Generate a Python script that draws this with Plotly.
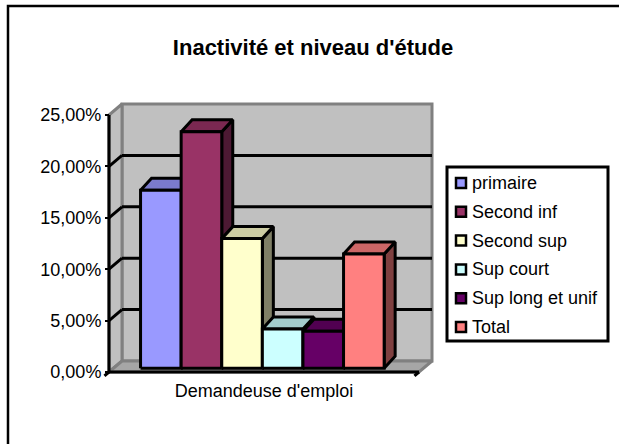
import plotly.graph_objects as go

# ---------------- data ----------------
categories = ["Demandeuse d'emploi"]
series = ["primaire", "Second inf", "Second sup", "Sup court", "Sup long et unif", "Total"]
values = [0.173, 0.230, 0.126, 0.038, 0.036, 0.111]
front_colors = ["#9999FF", "#993366", "#FFFFCC", "#CCFFFF", "#660066", "#FF8080"]
y_ticks = [0.0, 0.05, 0.10, 0.15, 0.20, 0.25]
chart_title = "Inactivité et niveau d'étude"

# ---------------- geometry ----------------
W, H = 619, 444
L, R, T, B = 100, 445, 95, 385
PW, PH = R - L, B - T
U = 40.6      # px per category unit
S = 1028.0    # px per value unit
X0, Y0 = 136.0, 372.0

x_range = [(L - X0) / U, (R - X0) / U]
y_range = [(Y0 - B) / S, (Y0 - T) / S]

DX, DY = 13 / U, 11 / S          # wall depth vector
XL, XR = (109 - X0) / U, (419 - X0) / U
VMAX = y_ticks[-1]
BD = 0.35                        # depth of bar front
BAR_DX, BAR_DY = 11 / U, 12 / S  # bar depth vector

FONT = "Liberation Sans, Arial, sans-serif"
FS = 18


def fx(px):
    return (px - L) / PW


def fy(py):
    return (B - py) / PH


def shade(hx, f):
    hx = hx.lstrip("#")
    r, g, b = (int(hx[i:i + 2], 16) for i in (0, 2, 4))
    return "#%02X%02X%02X" % (int(r * f), int(g * f), int(b * f))


fig = go.Figure()


def poly(pts, fill, line="black", width=3):
    xs = [p[0] for p in pts] + [pts[0][0]]
    ys = [p[1] for p in pts] + [pts[0][1]]
    fig.add_trace(go.Scatter(x=xs, y=ys, mode="lines", fill="toself",
                             fillcolor=fill, line=dict(color=line, width=width),
                             hoverinfo="skip", showlegend=False))


def lines(segs, color="black", width=3):
    xs, ys = [], []
    for (a, b) in segs:
        xs += [a[0], b[0], None]
        ys += [a[1], b[1], None]
    fig.add_trace(go.Scatter(x=xs, y=ys, mode="lines",
                             line=dict(color=color, width=width),
                             hoverinfo="skip", showlegend=False))


# walls
wall_fill, wall_line = "#C0C0C0", "#808080"
poly([(XL + DX, DY), (XR + DX, DY), (XR + DX, VMAX + DY), (XL + DX, VMAX + DY)], wall_fill, wall_line)
poly([(XL, 0), (XL + DX, DY), (XL + DX, VMAX + DY), (XL, VMAX)], wall_fill, wall_line)
poly([(XL, 0), (XR, 0), (XR + DX, DY), (XL + DX, DY)], "#A6A6A6", wall_line)

# gridlines
grid = []
for t in y_ticks[1:-1]:
    grid.append(((XL + DX, t + DY), (XR + DX, t + DY)))
    grid.append(((XL, t), (XL + DX, t + DY)))
lines(grid)

# bars
a, b = BD * DX, BD * DY
for i, (name, v, c) in enumerate(zip(series, values, front_colors)):
    x0, x1 = i + a, i + 1 + a
    poly([(x1, b), (x1 + BAR_DX, b + BAR_DY), (x1 + BAR_DX, v + b + BAR_DY), (x1, v + b)], shade(c, 0.5))
    poly([(x0, v + b), (x1, v + b), (x1 + BAR_DX, v + b + BAR_DY), (x0 + BAR_DX, v + b + BAR_DY)], shade(c, 0.8))
    poly([(x0, b), (x1, b), (x1, v + b), (x0, v + b)], c)

# front axes
lines([((XL, 0), (XL, VMAX)), ((XL, 0), (XR, 0)),
       ((XL, 0), (XL - BD * DX, -BD * DY)), ((XR, 0), (XR - BD * DX, -BD * DY))])

# ---------------- manual legend ----------------
shapes = []
annotations = []
shapes.append(dict(type="rect", xref="paper", yref="paper",
                   x0=fx(447), x1=fx(608), y0=fy(341), y1=fy(167),
                   line=dict(color="black", width=3), fillcolor="white", layer="above"))
for k, (name, c) in enumerate(zip(series, front_colors)):
    yc = 183 + 28.8 * k
    shapes.append(dict(type="rect", xref="paper", yref="paper",
                       x0=fx(456), x1=fx(466), y0=fy(yc + 5), y1=fy(yc - 5),
                       line=dict(color="black", width=2.5), fillcolor=c, layer="above"))
    annotations.append(dict(x=fx(470), y=fy(yc), xref="paper", yref="paper",
                            text=name, showarrow=False, xanchor="left", yanchor="middle",
                            font=dict(family=FONT, size=FS, color="black")))

# outer chart border (right/bottom fall outside the picture)
shapes.append(dict(type="path", xref="paper", yref="paper",
                   path="M %f,%f L %f,%f L %f,%f" % (fx(8), fy(470), fx(8), fy(6), fx(650), fy(6)),
                   line=dict(color="black", width=2.5)))

fig.update_layout(
    width=W, height=H,
    margin=dict(l=L, r=W - R, t=T, b=H - B),
    paper_bgcolor="white", plot_bgcolor="white",
    separators=", ",
    showlegend=False,
    font=dict(family=FONT, size=FS, color="black"),
    title=dict(text=chart_title, x=313 / W, xanchor="center", y=1 - 47 / H, yanchor="middle",
               font=dict(family=FONT, size=22, color="black", weight="bold")),
    xaxis=dict(range=x_range, anchor="free", position=fy(372),
               tickvals=[(XL + XR) / 2], ticktext=categories, ticks="",
               showgrid=False, zeroline=False, showline=False,
               ticklabelstandoff=6, tickfont=dict(size=FS)),
    yaxis=dict(range=y_range, anchor="free", position=fx(109),
               tickvals=y_ticks, tickformat=".2%", ticks="outside", ticklen=4,
               tickwidth=2, tickcolor="black",
               showgrid=False, zeroline=False, showline=False,
               tickfont=dict(size=FS)),
    shapes=shapes, annotations=annotations,
)

fig.write_html("out.html", config={"displayModeBar": False},
               post_script="document.body.style.margin='0px';")
